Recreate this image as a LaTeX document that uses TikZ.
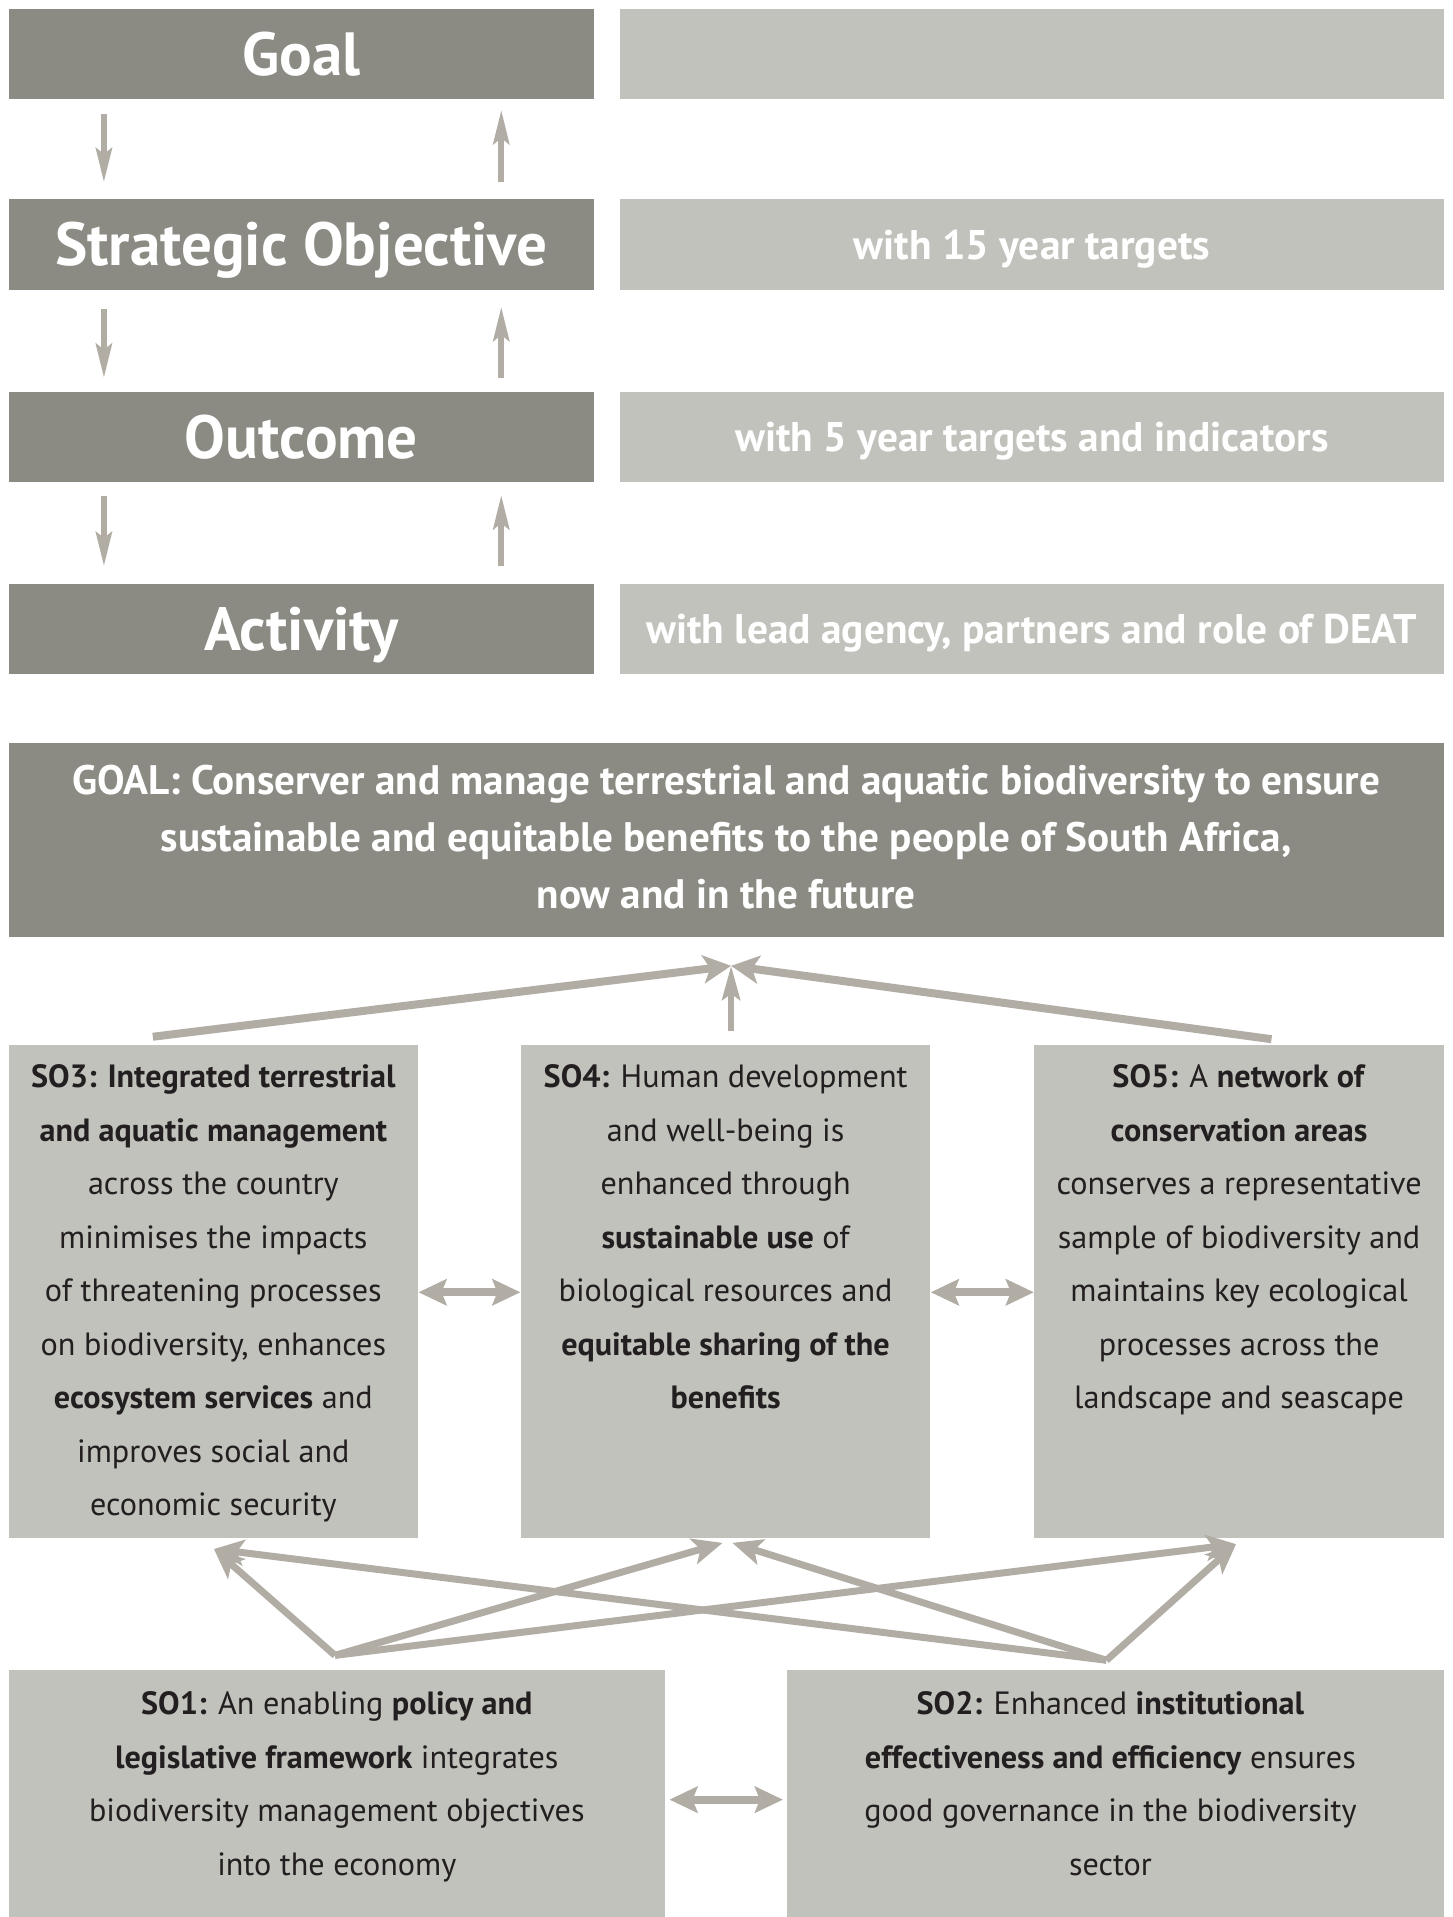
\documentclass[tikz,border=0pt]{standalone}
\usepackage{fontspec}
\setmainfont{PT Sans}
\usetikzlibrary{arrows.meta}
\definecolor{darkbox}{HTML}{8B8B84}
\definecolor{lightbox}{HTML}{C1C2BC}
\definecolor{arr}{HTML}{B1ADA5}
\definecolor{ink}{HTML}{231F20}
\tikzset{
  dbox/.style={fill=darkbox, inner sep=0pt, minimum width=479*0.61155pt, minimum height=74*0.61155pt,
    text=white, font=\bfseries\fontsize{30.5}{36}\selectfont, text height=21.4pt, text depth=0pt},
  lbox/.style={fill=lightbox, inner sep=0pt, minimum width=674*0.61155pt, minimum height=74*0.61155pt,
    text=white, font=\bfseries\fontsize{20.7}{24}\selectfont, text height=14.5pt, text depth=0pt},
  bigbox/.style={fill=darkbox, inner sep=0pt, minimum width=1174*0.61155pt, minimum height=158*0.61155pt,
    text=white, align=center, font=\bfseries\fontsize{20.6}{28.4}\selectfont},
  sobox/.style={fill=lightbox, inner sep=0pt, minimum width=335*0.61155pt, minimum height=403*0.61155pt},
  basebox/.style={fill=lightbox, inner sep=0pt, minimum width=537*0.61155pt, minimum height=202*0.61155pt},
  sotext/.style={anchor=north, inner sep=0pt, align=center, text=ink, font=\fontsize{16.1}{26.76}\selectfont},
  arrthin/.style={draw=arr, line width=3pt, -{Stealth[length=17pt,width=8pt,inset=3pt]}},
  arrgoal/.style={draw=arr, line width=4pt, -{Stealth[length=14pt,width=14pt,inset=3.5pt]}},
  arrmid/.style={draw=arr, line width=3pt, -{Stealth[length=17pt,width=9pt,inset=3pt]}},
  arrbot/.style={draw=arr, line width=3.5pt, -{Stealth[length=15pt,width=13pt,inset=3.5pt]}},
  arrdbl/.style={draw=arr, line width=4pt, {Stealth[length=14pt,width=13pt,inset=2.5pt]}-{Stealth[length=14pt,width=13pt,inset=2.5pt]}},
}
\begin{document}
\begin{tikzpicture}[x=0.61155pt,y=-0.61155pt]
\useasboundingbox (0,0) rectangle (1188,1568);
\fill[white] (0,0) rectangle (1188,1568);

% top legend
\node[dbox] (goal) at (246.5,44) {Goal};
\node[lbox] (goalr) at (844,44) {};
\node[dbox] (so) at (246.5,200) {Strategic Objective};
\node[lbox] (sor) at (844,200) {with 15 year targets};
\node[dbox] (out) at (246.5,357.5) {Outcome};
\node[lbox] (outr) at (844,357.5) {with 5 year targets and indicators};
\node[dbox] (act) at (246.5,514.5) {Activity};
\node[lbox] (actr) at (844,514.5) {with lead agency, partners and role of DEAT};

\coordinate (d1s) at (85,93);  \coordinate (d1e) at (85,149);
\coordinate (u1s) at (410,149); \coordinate (u1e) at (410,90);
\coordinate (d2s) at (85,253); \coordinate (d2e) at (85,309);
\coordinate (u2s) at (410,309); \coordinate (u2e) at (410,251);
\coordinate (d3s) at (85,406); \coordinate (d3e) at (85,463);
\coordinate (u3s) at (410,463); \coordinate (u3e) at (410,405);
\draw[arrthin] (d1s) -- (d1e);
\draw[arrthin] (u1s) -- (u1e);
\draw[arrthin] (d2s) -- (d2e);
\draw[arrthin] (u2s) -- (u2e);
\draw[arrthin] (d3s) -- (d3e);
\draw[arrthin] (u3s) -- (u3e);

% goal
\node[bigbox] (bg) at (594,687) {\strut GOAL: Conserver and manage terrestrial and aquatic biodiversity to ensure\\
sustainable and equitable benefits to the people of South Africa,\\
now and in the future\strut};

% SO boxes
\node[sobox] (so3) at (174.5,1056.5) {};
\node[sobox] (so4) at (593.5,1056.5) {};
\node[sobox] (so5) at (1013.5,1056.5) {};
\node[sotext] (so3t) at ([yshift=-2.4pt]so3.north) {\strut\textbf{SO3: Integrated terrestrial}\\
\textbf{and aquatic management}\\
across the country\\
minimises the impacts\\
of threatening processes\\
on biodiversity, enhances\\
\textbf{ecosystem services} and\\
improves social and\\
economic security};
\node[sotext] (so4t) at ([yshift=-2.4pt]so4.north) {\strut\textbf{SO4:} Human development\\
and well-being is\\
enhanced through\\
\textbf{sustainable use} of\\
biological resources and\\
\textbf{equitable sharing of the}\\
\textbf{benefits}};
\node[sotext] (so5t) at ([yshift=-2.4pt]so5.north) {\strut\textbf{SO5:} A \textbf{network of}\\
\textbf{conservation areas}\\
conserves a representative\\
sample of biodiversity and\\
maintains key ecological\\
processes across the\\
landscape and seascape};

\node[basebox] (so1) at (275.5,1467) {};
\node[basebox] (so2) at (912.5,1467) {};
\node[sotext] (so1t) at ([yshift=-3.6pt]so1.north) {\strut\textbf{SO1:} An enabling \textbf{policy and}\\
\textbf{legislative framework} integrates\\
biodiversity management objectives\\
into the economy};
\node[sotext] (so2t) at ([yshift=-3.6pt,xshift=-2.6pt]so2.north) {\strut\textbf{SO2:} Enhanced \textbf{institutional}\\
\textbf{effectiveness and efficiency} ensures\\
good governance in the biodiversity\\
sector};

% arrows to goal
\coordinate (gtip) at (598,790);
\coordinate (ls) at (125,848);
\coordinate (rs) at (1040,850);
\coordinate (ms) at (598,843);
\draw[arrgoal] (ls) -- (gtip);
\draw[arrgoal] (rs) -- (gtip);
\draw[arrmid] (ms) -- (gtip);

% double arrows
\draw[arrdbl] (so3.east |- 0,1057) -- (so4.west |- 0,1057);
\draw[arrdbl] (so4.east |- 0,1057) -- (so5.west |- 0,1057);
\draw[arrdbl] ([xshift=2pt]so1.east |- 0,1472) -- ([xshift=-2pt]so2.west |- 0,1472);

% bottom arrows
\coordinate (a1) at (274,1354);
\coordinate (a2) at (905,1358);
\coordinate (t3) at (175,1267);
\coordinate (t4a) at (591,1262);
\coordinate (t4b) at (599,1262);
\coordinate (t5) at (1011,1263);
\draw[arrbot] (a1) -- (t3);
\draw[arrbot] (a1) -- (t4a);
\draw[arrbot] (a1) -- (t5);
\draw[arrbot] (a2) -- (t3);
\draw[arrbot] (a2) -- (t4b);
\draw[arrbot] (a2) -- (t5);
\end{tikzpicture}
\end{document}
